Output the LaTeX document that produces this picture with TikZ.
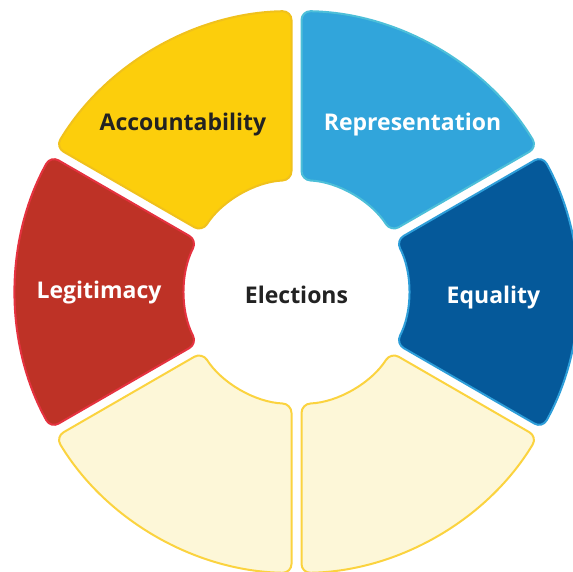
\documentclass[tikz,border=0pt]{standalone}
\usepackage{fontspec}
\setmainfont{Open Sans}
\usetikzlibrary{calc}
\definecolor{accF}{HTML}{FCCE0C}
\definecolor{accD}{HTML}{F0C11C}
\definecolor{repF}{HTML}{31A5DB}
\definecolor{repD}{HTML}{4DBFD9}
\definecolor{equF}{HTML}{05599A}
\definecolor{equD}{HTML}{2E9ED9}
\definecolor{legF}{HTML}{BE3226}
\definecolor{legD}{HTML}{E5323F}
\definecolor{palF}{HTML}{FDF7D8}
\definecolor{palD}{HTML}{FBD33F}
\definecolor{txtD}{HTML}{222222}
\tikzset{
  segment/.style={line width=2pt, rounded corners=9pt},
  lab/.style={font=\bfseries\fontsize{23}{27}\selectfont, inner sep=0pt},
}
\newcommand\ringseg[3]{%
  \draw[segment, fill=#2, draw=#3]
    ($(C)+({#1-30+1.02}:281pt)$) arc[start angle={#1-30+1.02}, end angle={#1+30-1.02}, radius=281pt]
    -- ($(C)+({#1+30-2.56}:112pt)$) arc[start angle={#1+30-2.56}, end angle={#1-30+2.56}, radius=112pt]
    -- cycle;}
\begin{document}
\begin{tikzpicture}[x=1pt,y=1pt]
\useasboundingbox (0,0) rectangle (572,572);
\coordinate (C) at (296.5,280);
\ringseg{120}{accF}{accD}
\ringseg{60}{repF}{repD}
\ringseg{0}{equF}{equD}
\ringseg{-60}{palF}{palD}
\ringseg{-120}{palF}{palD}
\ringseg{180}{legF}{legD}
\node[lab, text=txtD] (acc) at (183,447) {Accountability};
\node[lab, text=white] (rep) at (412.5,447) {Representation};
\node[lab, text=white] (leg) at (99,279) {Legitimacy};
\node[lab, text=white] (equ) at (493.5,274) {Equality};
\node[lab, text=txtD] (ele) at (296.5,277) {Elections};
\end{tikzpicture}
\end{document}
